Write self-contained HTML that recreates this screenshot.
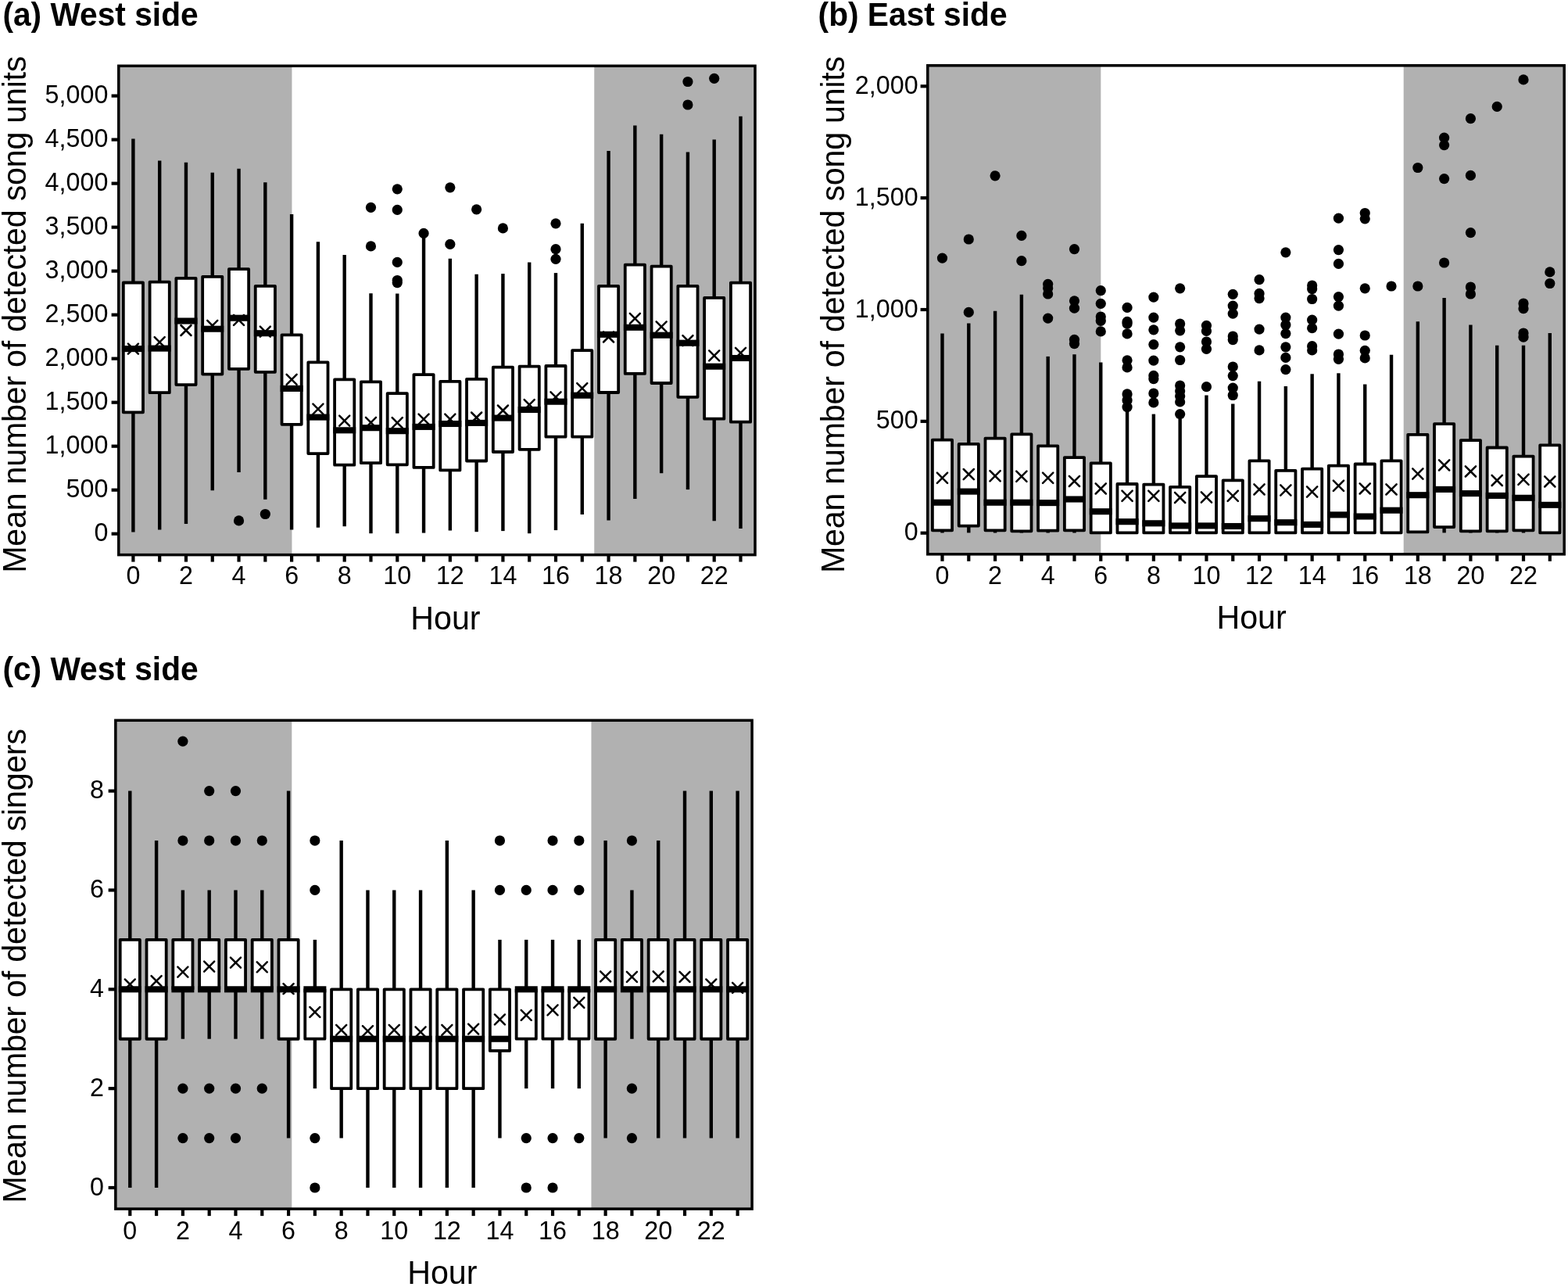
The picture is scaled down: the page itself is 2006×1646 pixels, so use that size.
<!DOCTYPE html><html><head><meta charset="utf-8"><title>Figure</title><style>
html,body{margin:0;padding:0;background:#fff;}svg{display:block;}
text{font-family:"Liberation Sans",Arial,Helvetica,sans-serif;fill:#000;}
.tl{font-size:32px;}.al{font-size:40px;}.ti{font-size:40px;font-weight:bold;}
.w{stroke:#000;stroke-width:4.4;}
.b{fill:#fff;stroke:#000;stroke-width:3.8;stroke-linejoin:round;}
.m{stroke:#000;stroke-width:8.1;}
.x{stroke:#000;stroke-width:2.5;stroke-linecap:round;fill:none;}
.fr{fill:none;stroke:#000;stroke-width:3.5;}
.t{stroke:#000;stroke-width:4.2;}
circle{fill:#000;}
</style></head><body>
<svg width="2006" height="1646" viewBox="0 0 2006 1646">
<rect width="2006" height="1646" fill="#fff"/>
<rect x="151.8" y="84.3" width="221.65" height="625.3" fill="#b1b1b1"/>
<rect x="760.25" y="84.3" width="205.75" height="625.3" fill="#b1b1b1"/>
<line x1="170.4" y1="177.4" x2="170.4" y2="361.5" class="w"/>
<line x1="170.4" y1="527.3" x2="170.4" y2="680.6" class="w"/>
<rect x="157.8" y="361.5" width="25.2" height="165.8" class="b"/>
<line x1="155.9" y1="446.1" x2="184.9" y2="446.1" class="m"/>
<path d="M163.9 439.6L176.9 452.6M163.9 452.6L176.9 439.6" class="x"/>
<line x1="204.19" y1="205.6" x2="204.19" y2="360.6" class="w"/>
<line x1="204.19" y1="502.2" x2="204.19" y2="677.4" class="w"/>
<rect x="191.59" y="360.6" width="25.2" height="141.6" class="b"/>
<line x1="189.69" y1="445.6" x2="218.69" y2="445.6" class="m"/>
<path d="M197.69 431.2L210.69 444.2M197.69 444.2L210.69 431.2" class="x"/>
<line x1="237.97" y1="207.7" x2="237.97" y2="355.8" class="w"/>
<line x1="237.97" y1="492.1" x2="237.97" y2="670.1" class="w"/>
<rect x="225.37" y="355.8" width="25.2" height="136.3" class="b"/>
<line x1="223.47" y1="410.5" x2="252.47" y2="410.5" class="m"/>
<path d="M231.47 416L244.47 429M231.47 429L244.47 416" class="x"/>
<line x1="271.76" y1="220.7" x2="271.76" y2="353.8" class="w"/>
<line x1="271.76" y1="478.6" x2="271.76" y2="627.2" class="w"/>
<rect x="259.16" y="353.8" width="25.2" height="124.8" class="b"/>
<line x1="257.26" y1="420.7" x2="286.26" y2="420.7" class="m"/>
<path d="M265.26 409.8L278.26 422.8M265.26 422.8L278.26 409.8" class="x"/>
<line x1="305.55" y1="215.7" x2="305.55" y2="344.2" class="w"/>
<line x1="305.55" y1="471.8" x2="305.55" y2="604.1" class="w"/>
<rect x="292.95" y="344.2" width="25.2" height="127.6" class="b"/>
<line x1="291.05" y1="406.7" x2="320.05" y2="406.7" class="m"/>
<path d="M299.05 402.9L312.05 415.9M299.05 415.9L312.05 402.9" class="x"/>
<circle cx="305.55" cy="665.9" r="6.6"/>
<line x1="339.34" y1="233.3" x2="339.34" y2="365.8" class="w"/>
<line x1="339.34" y1="475.8" x2="339.34" y2="638.7" class="w"/>
<rect x="326.74" y="365.8" width="25.2" height="110" class="b"/>
<line x1="324.84" y1="426.2" x2="353.84" y2="426.2" class="m"/>
<path d="M332.84 417.6L345.84 430.6M332.84 430.6L345.84 417.6" class="x"/>
<circle cx="339.34" cy="657.5" r="6.6"/>
<line x1="373.12" y1="274.1" x2="373.12" y2="428.3" class="w"/>
<line x1="373.12" y1="542.8" x2="373.12" y2="677.4" class="w"/>
<rect x="360.52" y="428.3" width="25.2" height="114.5" class="b"/>
<line x1="358.62" y1="496.9" x2="387.62" y2="496.9" class="m"/>
<path d="M366.62 478.9L379.62 491.9M366.62 491.9L379.62 478.9" class="x"/>
<line x1="406.91" y1="309.3" x2="406.91" y2="463.4" class="w"/>
<line x1="406.91" y1="580.1" x2="406.91" y2="674.7" class="w"/>
<rect x="394.31" y="463.4" width="25.2" height="116.7" class="b"/>
<line x1="392.41" y1="533.6" x2="421.41" y2="533.6" class="m"/>
<path d="M400.41 516.6L413.41 529.6M400.41 529.6L413.41 516.6" class="x"/>
<line x1="440.7" y1="326" x2="440.7" y2="485.4" class="w"/>
<line x1="440.7" y1="594.7" x2="440.7" y2="673.2" class="w"/>
<rect x="428.1" y="485.4" width="25.2" height="109.3" class="b"/>
<line x1="426.2" y1="550.3" x2="455.2" y2="550.3" class="m"/>
<path d="M434.2 531.7L447.2 544.7M434.2 544.7L447.2 531.7" class="x"/>
<line x1="474.48" y1="375.2" x2="474.48" y2="488.4" class="w"/>
<line x1="474.48" y1="592.2" x2="474.48" y2="682.2" class="w"/>
<rect x="461.88" y="488.4" width="25.2" height="103.8" class="b"/>
<line x1="459.98" y1="547.2" x2="488.98" y2="547.2" class="m"/>
<path d="M467.98 533.8L480.98 546.8M467.98 546.8L480.98 533.8" class="x"/>
<circle cx="474.48" cy="265.3" r="6.6"/>
<circle cx="474.48" cy="314.9" r="6.6"/>
<line x1="508.27" y1="375.6" x2="508.27" y2="503.2" class="w"/>
<line x1="508.27" y1="594.3" x2="508.27" y2="682.2" class="w"/>
<rect x="495.67" y="503.2" width="25.2" height="91.1" class="b"/>
<line x1="493.77" y1="551.2" x2="522.77" y2="551.2" class="m"/>
<path d="M501.77 534.2L514.77 547.2M501.77 547.2L514.77 534.2" class="x"/>
<circle cx="508.27" cy="241.8" r="6.6"/>
<circle cx="508.27" cy="268.4" r="6.6"/>
<circle cx="508.27" cy="335.4" r="6.6"/>
<circle cx="508.27" cy="358.5" r="6.6"/>
<circle cx="508.27" cy="361.6" r="6.6"/>
<line x1="542.06" y1="304" x2="542.06" y2="479.1" class="w"/>
<line x1="542.06" y1="597.9" x2="542.06" y2="681.6" class="w"/>
<rect x="529.46" y="479.1" width="25.2" height="118.8" class="b"/>
<line x1="527.56" y1="545.9" x2="556.56" y2="545.9" class="m"/>
<path d="M535.56 529.6L548.56 542.6M535.56 542.6L548.56 529.6" class="x"/>
<circle cx="542.06" cy="298.4" r="6.6"/>
<line x1="575.84" y1="330.8" x2="575.84" y2="487.9" class="w"/>
<line x1="575.84" y1="601.4" x2="575.84" y2="678.5" class="w"/>
<rect x="563.24" y="487.9" width="25.2" height="113.5" class="b"/>
<line x1="561.34" y1="542" x2="590.34" y2="542" class="m"/>
<path d="M569.34 529.6L582.34 542.6M569.34 542.6L582.34 529.6" class="x"/>
<circle cx="575.84" cy="239.8" r="6.6"/>
<circle cx="575.84" cy="312.4" r="6.6"/>
<line x1="609.63" y1="350.7" x2="609.63" y2="484.8" class="w"/>
<line x1="609.63" y1="589.5" x2="609.63" y2="680.2" class="w"/>
<rect x="597.03" y="484.8" width="25.2" height="104.7" class="b"/>
<line x1="595.13" y1="540.9" x2="624.13" y2="540.9" class="m"/>
<path d="M603.13 527.5L616.13 540.5M603.13 540.5L616.13 527.5" class="x"/>
<circle cx="609.63" cy="267.8" r="6.6"/>
<line x1="643.42" y1="350.1" x2="643.42" y2="469.7" class="w"/>
<line x1="643.42" y1="578" x2="643.42" y2="679.1" class="w"/>
<rect x="630.82" y="469.7" width="25.2" height="108.3" class="b"/>
<line x1="628.92" y1="534.6" x2="657.92" y2="534.6" class="m"/>
<path d="M636.92 518.5L649.92 531.5M636.92 531.5L649.92 518.5" class="x"/>
<circle cx="643.42" cy="291.9" r="6.6"/>
<line x1="677.21" y1="335.4" x2="677.21" y2="468.7" class="w"/>
<line x1="677.21" y1="574.8" x2="677.21" y2="682.2" class="w"/>
<rect x="664.61" y="468.7" width="25.2" height="106.1" class="b"/>
<line x1="662.71" y1="524" x2="691.71" y2="524" class="m"/>
<path d="M670.71 511.2L683.71 524.2M670.71 524.2L683.71 511.2" class="x"/>
<line x1="710.99" y1="349.1" x2="710.99" y2="468" class="w"/>
<line x1="710.99" y1="558.7" x2="710.99" y2="678.1" class="w"/>
<rect x="698.39" y="468" width="25.2" height="90.7" class="b"/>
<line x1="696.49" y1="513.7" x2="725.49" y2="513.7" class="m"/>
<path d="M704.49 501.3L717.49 514.3M704.49 514.3L717.49 501.3" class="x"/>
<circle cx="710.99" cy="285.8" r="6.6"/>
<circle cx="710.99" cy="318.7" r="6.6"/>
<circle cx="710.99" cy="331.3" r="6.6"/>
<line x1="744.78" y1="285.8" x2="744.78" y2="448.2" class="w"/>
<line x1="744.78" y1="558.7" x2="744.78" y2="658" class="w"/>
<rect x="732.18" y="448.2" width="25.2" height="110.5" class="b"/>
<line x1="730.28" y1="505.7" x2="759.28" y2="505.7" class="m"/>
<path d="M738.28 490.2L751.28 503.2M738.28 503.2L751.28 490.2" class="x"/>
<line x1="778.57" y1="193.1" x2="778.57" y2="365.8" class="w"/>
<line x1="778.57" y1="502" x2="778.57" y2="665.5" class="w"/>
<rect x="765.97" y="365.8" width="25.2" height="136.2" class="b"/>
<line x1="764.07" y1="427.8" x2="793.07" y2="427.8" class="m"/>
<path d="M772.07 424.5L785.07 437.5M772.07 437.5L785.07 424.5" class="x"/>
<line x1="812.35" y1="160.6" x2="812.35" y2="338.6" class="w"/>
<line x1="812.35" y1="477.9" x2="812.35" y2="638.1" class="w"/>
<rect x="799.75" y="338.6" width="25.2" height="139.3" class="b"/>
<line x1="797.85" y1="418.8" x2="826.85" y2="418.8" class="m"/>
<path d="M805.85 400.8L818.85 413.8M805.85 413.8L818.85 400.8" class="x"/>
<line x1="846.14" y1="171.7" x2="846.14" y2="340.7" class="w"/>
<line x1="846.14" y1="490" x2="846.14" y2="605.2" class="w"/>
<rect x="833.54" y="340.7" width="25.2" height="149.3" class="b"/>
<line x1="831.64" y1="428.7" x2="860.64" y2="428.7" class="m"/>
<path d="M839.64 411.3L852.64 424.3M839.64 424.3L852.64 411.3" class="x"/>
<line x1="879.93" y1="194.5" x2="879.93" y2="365.8" class="w"/>
<line x1="879.93" y1="507.8" x2="879.93" y2="626.1" class="w"/>
<rect x="867.33" y="365.8" width="25.2" height="142" class="b"/>
<line x1="865.43" y1="438.7" x2="894.43" y2="438.7" class="m"/>
<path d="M873.43 429.1L886.43 442.1M873.43 442.1L886.43 429.1" class="x"/>
<circle cx="879.93" cy="104.5" r="6.6"/>
<circle cx="879.93" cy="134" r="6.6"/>
<line x1="913.71" y1="178.4" x2="913.71" y2="380.9" class="w"/>
<line x1="913.71" y1="535.7" x2="913.71" y2="666.3" class="w"/>
<rect x="901.11" y="380.9" width="25.2" height="154.8" class="b"/>
<line x1="899.21" y1="468.7" x2="928.21" y2="468.7" class="m"/>
<path d="M907.21 448.4L920.21 461.4M907.21 461.4L920.21 448.4" class="x"/>
<circle cx="913.71" cy="100.3" r="6.6"/>
<line x1="947.5" y1="148.7" x2="947.5" y2="361.6" class="w"/>
<line x1="947.5" y1="539.7" x2="947.5" y2="676" class="w"/>
<rect x="934.9" y="361.6" width="25.2" height="178.1" class="b"/>
<line x1="933" y1="458" x2="962" y2="458" class="m"/>
<path d="M941 444.8L954 457.8M941 457.8L954 444.8" class="x"/>
<rect x="151.8" y="84.3" width="814.2" height="625.3" class="fr"/>
<line x1="142.6" y1="682.7" x2="151.8" y2="682.7" class="t"/>
<text transform="translate(138.4 692.2) scale(1 1.03)" font-size="32.3" text-anchor="end">0</text>
<line x1="142.6" y1="626.69" x2="151.8" y2="626.69" class="t"/>
<text transform="translate(138.4 636.19) scale(1 1.03)" font-size="32.3" text-anchor="end">500</text>
<line x1="142.6" y1="570.68" x2="151.8" y2="570.68" class="t"/>
<text transform="translate(138.4 580.18) scale(1 1.03)" font-size="32.3" text-anchor="end">1,000</text>
<line x1="142.6" y1="514.67" x2="151.8" y2="514.67" class="t"/>
<text transform="translate(138.4 524.17) scale(1 1.03)" font-size="32.3" text-anchor="end">1,500</text>
<line x1="142.6" y1="458.66" x2="151.8" y2="458.66" class="t"/>
<text transform="translate(138.4 468.16) scale(1 1.03)" font-size="32.3" text-anchor="end">2,000</text>
<line x1="142.6" y1="402.65" x2="151.8" y2="402.65" class="t"/>
<text transform="translate(138.4 412.15) scale(1 1.03)" font-size="32.3" text-anchor="end">2,500</text>
<line x1="142.6" y1="346.64" x2="151.8" y2="346.64" class="t"/>
<text transform="translate(138.4 356.14) scale(1 1.03)" font-size="32.3" text-anchor="end">3,000</text>
<line x1="142.6" y1="290.63" x2="151.8" y2="290.63" class="t"/>
<text transform="translate(138.4 300.13) scale(1 1.03)" font-size="32.3" text-anchor="end">3,500</text>
<line x1="142.6" y1="234.62" x2="151.8" y2="234.62" class="t"/>
<text transform="translate(138.4 244.12) scale(1 1.03)" font-size="32.3" text-anchor="end">4,000</text>
<line x1="142.6" y1="178.61" x2="151.8" y2="178.61" class="t"/>
<text transform="translate(138.4 188.11) scale(1 1.03)" font-size="32.3" text-anchor="end">4,500</text>
<line x1="142.6" y1="122.6" x2="151.8" y2="122.6" class="t"/>
<text transform="translate(138.4 132.1) scale(1 1.03)" font-size="32.3" text-anchor="end">5,000</text>
<line x1="170.4" y1="709.6" x2="170.4" y2="718.6" class="t"/>
<text transform="translate(170.4 747.4) scale(1 1.03)" font-size="32.3" text-anchor="middle">0</text>
<line x1="204.19" y1="709.6" x2="204.19" y2="718.6" class="t"/>
<line x1="237.97" y1="709.6" x2="237.97" y2="718.6" class="t"/>
<text transform="translate(237.97 747.4) scale(1 1.03)" font-size="32.3" text-anchor="middle">2</text>
<line x1="271.76" y1="709.6" x2="271.76" y2="718.6" class="t"/>
<line x1="305.55" y1="709.6" x2="305.55" y2="718.6" class="t"/>
<text transform="translate(305.55 747.4) scale(1 1.03)" font-size="32.3" text-anchor="middle">4</text>
<line x1="339.34" y1="709.6" x2="339.34" y2="718.6" class="t"/>
<line x1="373.12" y1="709.6" x2="373.12" y2="718.6" class="t"/>
<text transform="translate(373.12 747.4) scale(1 1.03)" font-size="32.3" text-anchor="middle">6</text>
<line x1="406.91" y1="709.6" x2="406.91" y2="718.6" class="t"/>
<line x1="440.7" y1="709.6" x2="440.7" y2="718.6" class="t"/>
<text transform="translate(440.7 747.4) scale(1 1.03)" font-size="32.3" text-anchor="middle">8</text>
<line x1="474.48" y1="709.6" x2="474.48" y2="718.6" class="t"/>
<line x1="508.27" y1="709.6" x2="508.27" y2="718.6" class="t"/>
<text transform="translate(508.27 747.4) scale(1 1.03)" font-size="32.3" text-anchor="middle">10</text>
<line x1="542.06" y1="709.6" x2="542.06" y2="718.6" class="t"/>
<line x1="575.84" y1="709.6" x2="575.84" y2="718.6" class="t"/>
<text transform="translate(575.84 747.4) scale(1 1.03)" font-size="32.3" text-anchor="middle">12</text>
<line x1="609.63" y1="709.6" x2="609.63" y2="718.6" class="t"/>
<line x1="643.42" y1="709.6" x2="643.42" y2="718.6" class="t"/>
<text transform="translate(643.42 747.4) scale(1 1.03)" font-size="32.3" text-anchor="middle">14</text>
<line x1="677.21" y1="709.6" x2="677.21" y2="718.6" class="t"/>
<line x1="710.99" y1="709.6" x2="710.99" y2="718.6" class="t"/>
<text transform="translate(710.99 747.4) scale(1 1.03)" font-size="32.3" text-anchor="middle">16</text>
<line x1="744.78" y1="709.6" x2="744.78" y2="718.6" class="t"/>
<line x1="778.57" y1="709.6" x2="778.57" y2="718.6" class="t"/>
<text transform="translate(778.57 747.4) scale(1 1.03)" font-size="32.3" text-anchor="middle">18</text>
<line x1="812.35" y1="709.6" x2="812.35" y2="718.6" class="t"/>
<line x1="846.14" y1="709.6" x2="846.14" y2="718.6" class="t"/>
<text transform="translate(846.14 747.4) scale(1 1.03)" font-size="32.3" text-anchor="middle">20</text>
<line x1="879.93" y1="709.6" x2="879.93" y2="718.6" class="t"/>
<line x1="913.71" y1="709.6" x2="913.71" y2="718.6" class="t"/>
<text transform="translate(913.71 747.4) scale(1 1.03)" font-size="32.3" text-anchor="middle">22</text>
<line x1="947.5" y1="709.6" x2="947.5" y2="718.6" class="t"/>
<text transform="translate(3.4 32.7) scale(1 1.05)" font-size="40.7" font-weight="bold">(a) West side</text>
<text transform="translate(569.9 805.3) scale(1 1.04)" font-size="41.2" text-anchor="middle">Hour</text>
<text transform="translate(32.6 732.7) rotate(-90) scale(1 1.04)" font-size="41.2" textLength="661.1" lengthAdjust="spacing">Mean number of detected song units</text>
<rect x="1186.8" y="83.8" width="221.5" height="625" fill="#b1b1b1"/>
<rect x="1795.7" y="83.8" width="205.5" height="625" fill="#b1b1b1"/>
<line x1="1205.5" y1="426.6" x2="1205.5" y2="562.7" class="w"/>
<line x1="1205.5" y1="678.3" x2="1205.5" y2="681.5" class="w"/>
<rect x="1192.9" y="562.7" width="25.2" height="115.6" class="b"/>
<line x1="1191" y1="642.7" x2="1220" y2="642.7" class="m"/>
<path d="M1198.9 604.7L1212.1 617.9M1198.9 617.9L1212.1 604.7" class="x"/>
<circle cx="1205.5" cy="330.1" r="6.6"/>
<line x1="1239.3" y1="413.4" x2="1239.3" y2="567.9" class="w"/>
<line x1="1239.3" y1="672.6" x2="1239.3" y2="681.4" class="w"/>
<rect x="1226.7" y="567.9" width="25.2" height="104.7" class="b"/>
<line x1="1224.8" y1="628.6" x2="1253.8" y2="628.6" class="m"/>
<path d="M1232.7 600L1245.9 613.2M1232.7 613.2L1245.9 600" class="x"/>
<circle cx="1239.3" cy="306" r="6.6"/>
<circle cx="1239.3" cy="399.4" r="6.6"/>
<line x1="1273.09" y1="397.7" x2="1273.09" y2="560.6" class="w"/>
<line x1="1273.09" y1="678.3" x2="1273.09" y2="681.5" class="w"/>
<rect x="1260.49" y="560.6" width="25.2" height="117.7" class="b"/>
<line x1="1258.59" y1="642.7" x2="1287.59" y2="642.7" class="m"/>
<path d="M1266.49 602.1L1279.69 615.3M1266.49 615.3L1279.69 602.1" class="x"/>
<circle cx="1273.09" cy="224.8" r="6.6"/>
<line x1="1306.89" y1="376.8" x2="1306.89" y2="555.4" class="w"/>
<line x1="1306.89" y1="679.3" x2="1306.89" y2="681.5" class="w"/>
<rect x="1294.29" y="555.4" width="25.2" height="123.9" class="b"/>
<line x1="1292.39" y1="642.7" x2="1321.39" y2="642.7" class="m"/>
<path d="M1300.29 602.6L1313.49 615.8M1300.29 615.8L1313.49 602.6" class="x"/>
<circle cx="1306.89" cy="301.4" r="6.6"/>
<circle cx="1306.89" cy="333.7" r="6.6"/>
<line x1="1340.68" y1="455.9" x2="1340.68" y2="570.4" class="w"/>
<line x1="1340.68" y1="678.7" x2="1340.68" y2="681.5" class="w"/>
<rect x="1328.08" y="570.4" width="25.2" height="108.3" class="b"/>
<line x1="1326.18" y1="643.1" x2="1355.18" y2="643.1" class="m"/>
<path d="M1334.08 604.7L1347.28 617.9M1334.08 617.9L1347.28 604.7" class="x"/>
<circle cx="1340.68" cy="363.3" r="6.6"/>
<circle cx="1340.68" cy="368.6" r="6.6"/>
<circle cx="1340.68" cy="376" r="6.6"/>
<circle cx="1340.68" cy="407.1" r="6.6"/>
<line x1="1374.48" y1="453.2" x2="1374.48" y2="585.1" class="w"/>
<line x1="1374.48" y1="678.3" x2="1374.48" y2="681.5" class="w"/>
<rect x="1361.88" y="585.1" width="25.2" height="93.2" class="b"/>
<line x1="1359.98" y1="638.5" x2="1388.98" y2="638.5" class="m"/>
<path d="M1367.88 608.8L1381.08 622M1367.88 622L1381.08 608.8" class="x"/>
<circle cx="1374.48" cy="318.6" r="6.6"/>
<circle cx="1374.48" cy="384.8" r="6.6"/>
<circle cx="1374.48" cy="394.2" r="6.6"/>
<circle cx="1374.48" cy="434.3" r="6.6"/>
<circle cx="1374.48" cy="439.6" r="6.6"/>
<line x1="1408.28" y1="463.6" x2="1408.28" y2="592.4" class="w"/>
<line x1="1408.28" y1="681.4" x2="1408.28" y2="681.5" class="w"/>
<rect x="1395.68" y="592.4" width="25.2" height="89" class="b"/>
<line x1="1393.78" y1="654.2" x2="1422.78" y2="654.2" class="m"/>
<path d="M1401.68 618.3L1414.88 631.5M1401.68 631.5L1414.88 618.3" class="x"/>
<circle cx="1408.28" cy="371.7" r="6.6"/>
<circle cx="1408.28" cy="388.3" r="6.6"/>
<circle cx="1408.28" cy="405" r="6.6"/>
<circle cx="1408.28" cy="410.3" r="6.6"/>
<circle cx="1408.28" cy="423.9" r="6.6"/>
<line x1="1442.07" y1="525.4" x2="1442.07" y2="619" class="w"/>
<line x1="1442.07" y1="681.4" x2="1442.07" y2="681.5" class="w"/>
<rect x="1429.47" y="619" width="25.2" height="62.4" class="b"/>
<line x1="1427.57" y1="667.2" x2="1456.57" y2="667.2" class="m"/>
<path d="M1435.47 627.7L1448.67 640.9M1435.47 640.9L1448.67 627.7" class="x"/>
<circle cx="1442.07" cy="393.4" r="6.6"/>
<circle cx="1442.07" cy="411.4" r="6.6"/>
<circle cx="1442.07" cy="414.1" r="6.6"/>
<circle cx="1442.07" cy="426.9" r="6.6"/>
<circle cx="1442.07" cy="460.8" r="6.6"/>
<circle cx="1442.07" cy="469.9" r="6.6"/>
<circle cx="1442.07" cy="503.9" r="6.6"/>
<circle cx="1442.07" cy="511.9" r="6.6"/>
<circle cx="1442.07" cy="520.5" r="6.6"/>
<line x1="1475.87" y1="529.6" x2="1475.87" y2="619.6" class="w"/>
<line x1="1475.87" y1="681.4" x2="1475.87" y2="681.5" class="w"/>
<rect x="1463.27" y="619.6" width="25.2" height="61.8" class="b"/>
<line x1="1461.37" y1="669.3" x2="1490.37" y2="669.3" class="m"/>
<path d="M1469.27 627.7L1482.47 640.9M1469.27 640.9L1482.47 627.7" class="x"/>
<circle cx="1475.87" cy="380.1" r="6.6"/>
<circle cx="1475.87" cy="406.1" r="6.6"/>
<circle cx="1475.87" cy="421.8" r="6.6"/>
<circle cx="1475.87" cy="440.6" r="6.6"/>
<circle cx="1475.87" cy="461.1" r="6.6"/>
<circle cx="1475.87" cy="480.4" r="6.6"/>
<circle cx="1475.87" cy="484.6" r="6.6"/>
<circle cx="1475.87" cy="503" r="6.6"/>
<circle cx="1475.87" cy="514.9" r="6.6"/>
<line x1="1509.66" y1="535.9" x2="1509.66" y2="622.8" class="w"/>
<line x1="1509.66" y1="681.4" x2="1509.66" y2="681.5" class="w"/>
<rect x="1497.06" y="622.8" width="25.2" height="58.6" class="b"/>
<line x1="1495.16" y1="672.4" x2="1524.16" y2="672.4" class="m"/>
<path d="M1503.06 629.8L1516.26 643M1503.06 643L1516.26 629.8" class="x"/>
<circle cx="1509.66" cy="368.8" r="6.6"/>
<circle cx="1509.66" cy="414" r="6.6"/>
<circle cx="1509.66" cy="422.8" r="6.6"/>
<circle cx="1509.66" cy="443.8" r="6.6"/>
<circle cx="1509.66" cy="460.5" r="6.6"/>
<circle cx="1509.66" cy="493" r="6.6"/>
<circle cx="1509.66" cy="499.9" r="6.6"/>
<circle cx="1509.66" cy="506.6" r="6.6"/>
<circle cx="1509.66" cy="513.9" r="6.6"/>
<circle cx="1509.66" cy="529.6" r="6.6"/>
<line x1="1543.46" y1="505.5" x2="1543.46" y2="609.2" class="w"/>
<line x1="1543.46" y1="681.4" x2="1543.46" y2="681.5" class="w"/>
<rect x="1530.86" y="609.2" width="25.2" height="72.2" class="b"/>
<line x1="1528.96" y1="672.4" x2="1557.96" y2="672.4" class="m"/>
<path d="M1536.86 629.4L1550.06 642.6M1536.86 642.6L1550.06 629.4" class="x"/>
<circle cx="1543.46" cy="416.3" r="6.6"/>
<circle cx="1543.46" cy="423.4" r="6.6"/>
<circle cx="1543.46" cy="437" r="6.6"/>
<circle cx="1543.46" cy="446.3" r="6.6"/>
<circle cx="1543.46" cy="494.7" r="6.6"/>
<line x1="1577.26" y1="516.5" x2="1577.26" y2="614.4" class="w"/>
<line x1="1577.26" y1="681.4" x2="1577.26" y2="681.5" class="w"/>
<rect x="1564.66" y="614.4" width="25.2" height="67" class="b"/>
<line x1="1562.76" y1="673" x2="1591.76" y2="673" class="m"/>
<path d="M1570.66 627.7L1583.86 640.9M1570.66 640.9L1583.86 627.7" class="x"/>
<circle cx="1577.26" cy="376.3" r="6.6"/>
<circle cx="1577.26" cy="391.1" r="6.6"/>
<circle cx="1577.26" cy="401.2" r="6.6"/>
<circle cx="1577.26" cy="430" r="6.6"/>
<circle cx="1577.26" cy="434.6" r="6.6"/>
<circle cx="1577.26" cy="469" r="6.6"/>
<circle cx="1577.26" cy="480.6" r="6.6"/>
<circle cx="1577.26" cy="496.1" r="6.6"/>
<circle cx="1577.26" cy="505.5" r="6.6"/>
<line x1="1611.05" y1="487.7" x2="1611.05" y2="589.3" class="w"/>
<line x1="1611.05" y1="681.4" x2="1611.05" y2="681.5" class="w"/>
<rect x="1598.45" y="589.3" width="25.2" height="92.1" class="b"/>
<line x1="1596.55" y1="663.2" x2="1625.55" y2="663.2" class="m"/>
<path d="M1604.45 619.3L1617.65 632.5M1604.45 632.5L1617.65 619.3" class="x"/>
<circle cx="1611.05" cy="357.7" r="6.6"/>
<circle cx="1611.05" cy="375.4" r="6.6"/>
<circle cx="1611.05" cy="381.6" r="6.6"/>
<circle cx="1611.05" cy="421.1" r="6.6"/>
<circle cx="1611.05" cy="447.9" r="6.6"/>
<line x1="1644.85" y1="494" x2="1644.85" y2="601.8" class="w"/>
<line x1="1644.85" y1="681.4" x2="1644.85" y2="681.5" class="w"/>
<rect x="1632.25" y="601.8" width="25.2" height="79.6" class="b"/>
<line x1="1630.35" y1="668.2" x2="1659.35" y2="668.2" class="m"/>
<path d="M1638.25 620.4L1651.45 633.6M1638.25 633.6L1651.45 620.4" class="x"/>
<circle cx="1644.85" cy="322.8" r="6.6"/>
<circle cx="1644.85" cy="406.1" r="6.6"/>
<circle cx="1644.85" cy="415.5" r="6.6"/>
<circle cx="1644.85" cy="426.6" r="6.6"/>
<circle cx="1644.85" cy="443.8" r="6.6"/>
<circle cx="1644.85" cy="457.4" r="6.6"/>
<circle cx="1644.85" cy="472.6" r="6.6"/>
<line x1="1678.64" y1="478.3" x2="1678.64" y2="599.7" class="w"/>
<line x1="1678.64" y1="681.4" x2="1678.64" y2="681.5" class="w"/>
<rect x="1666.04" y="599.7" width="25.2" height="81.7" class="b"/>
<line x1="1664.14" y1="670.9" x2="1693.14" y2="670.9" class="m"/>
<path d="M1672.04 622.4L1685.24 635.6M1672.04 635.6L1685.24 622.4" class="x"/>
<circle cx="1678.64" cy="365" r="6.6"/>
<circle cx="1678.64" cy="369.6" r="6.6"/>
<circle cx="1678.64" cy="382.5" r="6.6"/>
<circle cx="1678.64" cy="409.2" r="6.6"/>
<circle cx="1678.64" cy="419.7" r="6.6"/>
<circle cx="1678.64" cy="442.7" r="6.6"/>
<circle cx="1678.64" cy="447.9" r="6.6"/>
<line x1="1712.44" y1="477.3" x2="1712.44" y2="595.6" class="w"/>
<line x1="1712.44" y1="681.4" x2="1712.44" y2="681.5" class="w"/>
<rect x="1699.84" y="595.6" width="25.2" height="85.8" class="b"/>
<line x1="1697.94" y1="658.4" x2="1726.94" y2="658.4" class="m"/>
<path d="M1705.84 614.7L1719.04 627.9M1705.84 627.9L1719.04 614.7" class="x"/>
<circle cx="1712.44" cy="279.2" r="6.6"/>
<circle cx="1712.44" cy="319.6" r="6.6"/>
<circle cx="1712.44" cy="337.4" r="6.6"/>
<circle cx="1712.44" cy="379.6" r="6.6"/>
<circle cx="1712.44" cy="391.1" r="6.6"/>
<circle cx="1712.44" cy="427.2" r="6.6"/>
<circle cx="1712.44" cy="453" r="6.6"/>
<circle cx="1712.44" cy="459.3" r="6.6"/>
<line x1="1746.24" y1="491.5" x2="1746.24" y2="593.5" class="w"/>
<line x1="1746.24" y1="681.4" x2="1746.24" y2="681.5" class="w"/>
<rect x="1733.64" y="593.5" width="25.2" height="87.9" class="b"/>
<line x1="1731.74" y1="660.5" x2="1760.74" y2="660.5" class="m"/>
<path d="M1739.64 618.3L1752.84 631.5M1739.64 631.5L1752.84 618.3" class="x"/>
<circle cx="1746.24" cy="272.5" r="6.6"/>
<circle cx="1746.24" cy="279.8" r="6.6"/>
<circle cx="1746.24" cy="368.8" r="6.6"/>
<circle cx="1746.24" cy="429" r="6.6"/>
<circle cx="1746.24" cy="448.3" r="6.6"/>
<circle cx="1746.24" cy="457.9" r="6.6"/>
<line x1="1780.03" y1="453.8" x2="1780.03" y2="589.3" class="w"/>
<line x1="1780.03" y1="681.4" x2="1780.03" y2="681.5" class="w"/>
<rect x="1767.43" y="589.3" width="25.2" height="92.1" class="b"/>
<line x1="1765.53" y1="652.7" x2="1794.53" y2="652.7" class="m"/>
<path d="M1773.43 619.3L1786.63 632.5M1773.43 632.5L1786.63 619.3" class="x"/>
<circle cx="1780.03" cy="366" r="6.6"/>
<line x1="1813.83" y1="411.3" x2="1813.83" y2="555.8" class="w"/>
<line x1="1813.83" y1="680.4" x2="1813.83" y2="681.5" class="w"/>
<rect x="1801.23" y="555.8" width="25.2" height="124.6" class="b"/>
<line x1="1799.33" y1="633.2" x2="1828.33" y2="633.2" class="m"/>
<path d="M1807.23 599.4L1820.43 612.6M1807.23 612.6L1820.43 599.4" class="x"/>
<circle cx="1813.83" cy="214.5" r="6.6"/>
<circle cx="1813.83" cy="366" r="6.6"/>
<line x1="1847.62" y1="380.9" x2="1847.62" y2="542.2" class="w"/>
<line x1="1847.62" y1="674.1" x2="1847.62" y2="681.4" class="w"/>
<rect x="1835.02" y="542.2" width="25.2" height="131.9" class="b"/>
<line x1="1833.12" y1="625.9" x2="1862.12" y2="625.9" class="m"/>
<path d="M1841.02 588.3L1854.22 601.5M1841.02 601.5L1854.22 588.3" class="x"/>
<circle cx="1847.62" cy="176.2" r="6.6"/>
<circle cx="1847.62" cy="185.6" r="6.6"/>
<circle cx="1847.62" cy="228.6" r="6.6"/>
<circle cx="1847.62" cy="336" r="6.6"/>
<line x1="1881.42" y1="415.5" x2="1881.42" y2="563.1" class="w"/>
<line x1="1881.42" y1="679.3" x2="1881.42" y2="681.5" class="w"/>
<rect x="1868.82" y="563.1" width="25.2" height="116.2" class="b"/>
<line x1="1866.92" y1="631.1" x2="1895.92" y2="631.1" class="m"/>
<path d="M1874.82 596.3L1888.02 609.5M1874.82 609.5L1888.02 596.3" class="x"/>
<circle cx="1881.42" cy="151.7" r="6.6"/>
<circle cx="1881.42" cy="224.4" r="6.6"/>
<circle cx="1881.42" cy="297.6" r="6.6"/>
<circle cx="1881.42" cy="367" r="6.6"/>
<circle cx="1881.42" cy="376" r="6.6"/>
<line x1="1915.22" y1="441.7" x2="1915.22" y2="572.5" class="w"/>
<line x1="1915.22" y1="679.3" x2="1915.22" y2="681.5" class="w"/>
<rect x="1902.62" y="572.5" width="25.2" height="106.8" class="b"/>
<line x1="1900.72" y1="633.9" x2="1929.72" y2="633.9" class="m"/>
<path d="M1908.62 607.8L1921.82 621M1908.62 621L1921.82 607.8" class="x"/>
<circle cx="1915.22" cy="136.4" r="6.6"/>
<line x1="1949.01" y1="441.7" x2="1949.01" y2="583.6" class="w"/>
<line x1="1949.01" y1="678.3" x2="1949.01" y2="681.5" class="w"/>
<rect x="1936.41" y="583.6" width="25.2" height="94.7" class="b"/>
<line x1="1934.51" y1="636.8" x2="1963.51" y2="636.8" class="m"/>
<path d="M1942.41 606.7L1955.61 619.9M1942.41 619.9L1955.61 606.7" class="x"/>
<circle cx="1949.01" cy="101.9" r="6.6"/>
<circle cx="1949.01" cy="388" r="6.6"/>
<circle cx="1949.01" cy="394.7" r="6.6"/>
<circle cx="1949.01" cy="426" r="6.6"/>
<circle cx="1949.01" cy="431.2" r="6.6"/>
<line x1="1982.81" y1="426" x2="1982.81" y2="569.4" class="w"/>
<line x1="1982.81" y1="681.4" x2="1982.81" y2="681.5" class="w"/>
<rect x="1970.21" y="569.4" width="25.2" height="112" class="b"/>
<line x1="1968.31" y1="645.8" x2="1997.31" y2="645.8" class="m"/>
<path d="M1976.21 609.3L1989.41 622.5M1976.21 622.5L1989.41 609.3" class="x"/>
<circle cx="1982.81" cy="347.9" r="6.6"/>
<circle cx="1982.81" cy="362.5" r="6.6"/>
<rect x="1186.8" y="83.8" width="814.4" height="625" class="fr"/>
<line x1="1177.6" y1="681.7" x2="1186.8" y2="681.7" class="t"/>
<text transform="translate(1174.6 691.2) scale(1 1.03)" font-size="32.3" text-anchor="end">0</text>
<line x1="1177.6" y1="538.85" x2="1186.8" y2="538.85" class="t"/>
<text transform="translate(1174.6 548.35) scale(1 1.03)" font-size="32.3" text-anchor="end">500</text>
<line x1="1177.6" y1="396" x2="1186.8" y2="396" class="t"/>
<text transform="translate(1174.6 405.5) scale(1 1.03)" font-size="32.3" text-anchor="end">1,000</text>
<line x1="1177.6" y1="253.15" x2="1186.8" y2="253.15" class="t"/>
<text transform="translate(1174.6 262.65) scale(1 1.03)" font-size="32.3" text-anchor="end">1,500</text>
<line x1="1177.6" y1="110.3" x2="1186.8" y2="110.3" class="t"/>
<text transform="translate(1174.6 119.8) scale(1 1.03)" font-size="32.3" text-anchor="end">2,000</text>
<line x1="1205.5" y1="708.8" x2="1205.5" y2="717.8" class="t"/>
<text transform="translate(1205.5 747.4) scale(1 1.03)" font-size="32.3" text-anchor="middle">0</text>
<line x1="1239.3" y1="708.8" x2="1239.3" y2="717.8" class="t"/>
<line x1="1273.09" y1="708.8" x2="1273.09" y2="717.8" class="t"/>
<text transform="translate(1273.09 747.4) scale(1 1.03)" font-size="32.3" text-anchor="middle">2</text>
<line x1="1306.89" y1="708.8" x2="1306.89" y2="717.8" class="t"/>
<line x1="1340.68" y1="708.8" x2="1340.68" y2="717.8" class="t"/>
<text transform="translate(1340.68 747.4) scale(1 1.03)" font-size="32.3" text-anchor="middle">4</text>
<line x1="1374.48" y1="708.8" x2="1374.48" y2="717.8" class="t"/>
<line x1="1408.28" y1="708.8" x2="1408.28" y2="717.8" class="t"/>
<text transform="translate(1408.28 747.4) scale(1 1.03)" font-size="32.3" text-anchor="middle">6</text>
<line x1="1442.07" y1="708.8" x2="1442.07" y2="717.8" class="t"/>
<line x1="1475.87" y1="708.8" x2="1475.87" y2="717.8" class="t"/>
<text transform="translate(1475.87 747.4) scale(1 1.03)" font-size="32.3" text-anchor="middle">8</text>
<line x1="1509.66" y1="708.8" x2="1509.66" y2="717.8" class="t"/>
<line x1="1543.46" y1="708.8" x2="1543.46" y2="717.8" class="t"/>
<text transform="translate(1543.46 747.4) scale(1 1.03)" font-size="32.3" text-anchor="middle">10</text>
<line x1="1577.26" y1="708.8" x2="1577.26" y2="717.8" class="t"/>
<line x1="1611.05" y1="708.8" x2="1611.05" y2="717.8" class="t"/>
<text transform="translate(1611.05 747.4) scale(1 1.03)" font-size="32.3" text-anchor="middle">12</text>
<line x1="1644.85" y1="708.8" x2="1644.85" y2="717.8" class="t"/>
<line x1="1678.64" y1="708.8" x2="1678.64" y2="717.8" class="t"/>
<text transform="translate(1678.64 747.4) scale(1 1.03)" font-size="32.3" text-anchor="middle">14</text>
<line x1="1712.44" y1="708.8" x2="1712.44" y2="717.8" class="t"/>
<line x1="1746.24" y1="708.8" x2="1746.24" y2="717.8" class="t"/>
<text transform="translate(1746.24 747.4) scale(1 1.03)" font-size="32.3" text-anchor="middle">16</text>
<line x1="1780.03" y1="708.8" x2="1780.03" y2="717.8" class="t"/>
<line x1="1813.83" y1="708.8" x2="1813.83" y2="717.8" class="t"/>
<text transform="translate(1813.83 747.4) scale(1 1.03)" font-size="32.3" text-anchor="middle">18</text>
<line x1="1847.62" y1="708.8" x2="1847.62" y2="717.8" class="t"/>
<line x1="1881.42" y1="708.8" x2="1881.42" y2="717.8" class="t"/>
<text transform="translate(1881.42 747.4) scale(1 1.03)" font-size="32.3" text-anchor="middle">20</text>
<line x1="1915.22" y1="708.8" x2="1915.22" y2="717.8" class="t"/>
<line x1="1949.01" y1="708.8" x2="1949.01" y2="717.8" class="t"/>
<text transform="translate(1949.01 747.4) scale(1 1.03)" font-size="32.3" text-anchor="middle">22</text>
<line x1="1982.81" y1="708.8" x2="1982.81" y2="717.8" class="t"/>
<text transform="translate(1046.6 32.7) scale(1 1.05)" font-size="40.7" font-weight="bold">(b) East side</text>
<text transform="translate(1601.1 804.3) scale(1 1.04)" font-size="41.2" text-anchor="middle">Hour</text>
<text transform="translate(1080 733) rotate(-90) scale(1 1.04)" font-size="41.2" textLength="661.2" lengthAdjust="spacing">Mean number of detected song units</text>
<rect x="147.85" y="921.3" width="225.45" height="624.8" fill="#b1b1b1"/>
<rect x="756.45" y="921.3" width="205.65" height="624.8" fill="#b1b1b1"/>
<line x1="166.3" y1="1011.6" x2="166.3" y2="1201.88" class="w"/>
<line x1="166.3" y1="1328.72" x2="166.3" y2="1519" class="w"/>
<rect x="153.7" y="1201.88" width="25.2" height="126.85" class="b"/>
<line x1="151.8" y1="1265.3" x2="180.8" y2="1265.3" class="m"/>
<path d="M159.8 1252.46L172.8 1265.46M159.8 1265.46L172.8 1252.46" class="x"/>
<line x1="200.1" y1="1075.03" x2="200.1" y2="1201.88" class="w"/>
<line x1="200.1" y1="1328.72" x2="200.1" y2="1519" class="w"/>
<rect x="187.5" y="1201.88" width="25.2" height="126.85" class="b"/>
<line x1="185.6" y1="1265.3" x2="214.6" y2="1265.3" class="m"/>
<path d="M193.6 1248.02L206.6 1261.02M193.6 1261.02L206.6 1248.02" class="x"/>
<line x1="233.89" y1="1138.45" x2="233.89" y2="1201.88" class="w"/>
<line x1="233.89" y1="1265.3" x2="233.89" y2="1328.72" class="w"/>
<rect x="221.29" y="1201.88" width="25.2" height="63.42" class="b"/>
<line x1="219.39" y1="1265.3" x2="248.39" y2="1265.3" class="m"/>
<path d="M227.39 1236.6L240.39 1249.6M227.39 1249.6L240.39 1236.6" class="x"/>
<circle cx="233.89" cy="948.18" r="6.6"/>
<circle cx="233.89" cy="1075.03" r="6.6"/>
<circle cx="233.89" cy="1392.15" r="6.6"/>
<circle cx="233.89" cy="1455.58" r="6.6"/>
<line x1="267.69" y1="1138.45" x2="267.69" y2="1201.88" class="w"/>
<line x1="267.69" y1="1265.3" x2="267.69" y2="1328.72" class="w"/>
<rect x="255.09" y="1201.88" width="25.2" height="63.42" class="b"/>
<line x1="253.19" y1="1265.3" x2="282.19" y2="1265.3" class="m"/>
<path d="M261.19 1229.62L274.19 1242.62M261.19 1242.62L274.19 1229.62" class="x"/>
<circle cx="267.69" cy="1011.6" r="6.6"/>
<circle cx="267.69" cy="1075.03" r="6.6"/>
<circle cx="267.69" cy="1392.15" r="6.6"/>
<circle cx="267.69" cy="1455.58" r="6.6"/>
<line x1="301.48" y1="1138.45" x2="301.48" y2="1201.88" class="w"/>
<line x1="301.48" y1="1265.3" x2="301.48" y2="1328.72" class="w"/>
<rect x="288.88" y="1201.88" width="25.2" height="63.42" class="b"/>
<line x1="286.98" y1="1265.3" x2="315.98" y2="1265.3" class="m"/>
<path d="M294.98 1224.55L307.98 1237.55M294.98 1237.55L307.98 1224.55" class="x"/>
<circle cx="301.48" cy="1011.6" r="6.6"/>
<circle cx="301.48" cy="1075.03" r="6.6"/>
<circle cx="301.48" cy="1392.15" r="6.6"/>
<circle cx="301.48" cy="1455.58" r="6.6"/>
<line x1="335.28" y1="1138.45" x2="335.28" y2="1201.88" class="w"/>
<line x1="335.28" y1="1265.3" x2="335.28" y2="1328.72" class="w"/>
<rect x="322.68" y="1201.88" width="25.2" height="63.42" class="b"/>
<line x1="320.78" y1="1265.3" x2="349.78" y2="1265.3" class="m"/>
<path d="M328.78 1230.26L341.78 1243.26M328.78 1243.26L341.78 1230.26" class="x"/>
<circle cx="335.28" cy="1075.03" r="6.6"/>
<circle cx="335.28" cy="1392.15" r="6.6"/>
<line x1="369.08" y1="1011.6" x2="369.08" y2="1201.88" class="w"/>
<line x1="369.08" y1="1328.72" x2="369.08" y2="1455.58" class="w"/>
<rect x="356.48" y="1201.88" width="25.2" height="126.85" class="b"/>
<line x1="354.58" y1="1265.3" x2="383.58" y2="1265.3" class="m"/>
<path d="M362.58 1258.17L375.58 1271.17M362.58 1271.17L375.58 1258.17" class="x"/>
<line x1="402.87" y1="1201.88" x2="402.87" y2="1265.3" class="w"/>
<line x1="402.87" y1="1328.72" x2="402.87" y2="1392.15" class="w"/>
<rect x="390.27" y="1265.3" width="25.2" height="63.42" class="b"/>
<line x1="388.37" y1="1265.3" x2="417.37" y2="1265.3" class="m"/>
<path d="M396.37 1287.98L409.37 1300.98M396.37 1300.98L409.37 1287.98" class="x"/>
<circle cx="402.87" cy="1075.03" r="6.6"/>
<circle cx="402.87" cy="1138.45" r="6.6"/>
<circle cx="402.87" cy="1455.58" r="6.6"/>
<circle cx="402.87" cy="1519" r="6.6"/>
<line x1="436.67" y1="1075.03" x2="436.67" y2="1265.3" class="w"/>
<line x1="436.67" y1="1392.15" x2="436.67" y2="1455.58" class="w"/>
<rect x="424.07" y="1265.3" width="25.2" height="126.85" class="b"/>
<line x1="422.17" y1="1328.72" x2="451.17" y2="1328.72" class="m"/>
<path d="M430.17 1310.81L443.17 1323.81M430.17 1323.81L443.17 1310.81" class="x"/>
<line x1="470.46" y1="1138.45" x2="470.46" y2="1265.3" class="w"/>
<line x1="470.46" y1="1392.15" x2="470.46" y2="1519" class="w"/>
<rect x="457.86" y="1265.3" width="25.2" height="126.85" class="b"/>
<line x1="455.96" y1="1328.72" x2="484.96" y2="1328.72" class="m"/>
<path d="M463.96 1312.08L476.96 1325.08M463.96 1325.08L476.96 1312.08" class="x"/>
<line x1="504.26" y1="1138.45" x2="504.26" y2="1265.3" class="w"/>
<line x1="504.26" y1="1392.15" x2="504.26" y2="1519" class="w"/>
<rect x="491.66" y="1265.3" width="25.2" height="126.85" class="b"/>
<line x1="489.76" y1="1328.72" x2="518.76" y2="1328.72" class="m"/>
<path d="M497.76 1310.81L510.76 1323.81M497.76 1323.81L510.76 1310.81" class="x"/>
<line x1="538.06" y1="1138.45" x2="538.06" y2="1265.3" class="w"/>
<line x1="538.06" y1="1392.15" x2="538.06" y2="1519" class="w"/>
<rect x="525.46" y="1265.3" width="25.2" height="126.85" class="b"/>
<line x1="523.56" y1="1328.72" x2="552.56" y2="1328.72" class="m"/>
<path d="M531.56 1313.35L544.56 1326.35M531.56 1326.35L544.56 1313.35" class="x"/>
<line x1="571.85" y1="1075.03" x2="571.85" y2="1265.3" class="w"/>
<line x1="571.85" y1="1392.15" x2="571.85" y2="1519" class="w"/>
<rect x="559.25" y="1265.3" width="25.2" height="126.85" class="b"/>
<line x1="557.35" y1="1328.72" x2="586.35" y2="1328.72" class="m"/>
<path d="M565.35 1310.81L578.35 1323.81M565.35 1323.81L578.35 1310.81" class="x"/>
<line x1="605.65" y1="1138.45" x2="605.65" y2="1265.3" class="w"/>
<line x1="605.65" y1="1392.15" x2="605.65" y2="1519" class="w"/>
<rect x="593.05" y="1265.3" width="25.2" height="126.85" class="b"/>
<line x1="591.15" y1="1328.72" x2="620.15" y2="1328.72" class="m"/>
<path d="M599.15 1309.54L612.15 1322.54M599.15 1322.54L612.15 1309.54" class="x"/>
<line x1="639.44" y1="1201.88" x2="639.44" y2="1265.3" class="w"/>
<line x1="639.44" y1="1343.95" x2="639.44" y2="1455.58" class="w"/>
<rect x="626.84" y="1265.3" width="25.2" height="78.65" class="b"/>
<line x1="624.94" y1="1328.72" x2="653.94" y2="1328.72" class="m"/>
<path d="M632.94 1297.49L645.94 1310.49M632.94 1310.49L645.94 1297.49" class="x"/>
<circle cx="639.44" cy="1075.03" r="6.6"/>
<circle cx="639.44" cy="1138.45" r="6.6"/>
<line x1="673.24" y1="1201.88" x2="673.24" y2="1265.3" class="w"/>
<line x1="673.24" y1="1328.72" x2="673.24" y2="1392.15" class="w"/>
<rect x="660.64" y="1265.3" width="25.2" height="63.42" class="b"/>
<line x1="658.74" y1="1265.3" x2="687.74" y2="1265.3" class="m"/>
<path d="M666.74 1291.78L679.74 1304.78M666.74 1304.78L679.74 1291.78" class="x"/>
<circle cx="673.24" cy="1138.45" r="6.6"/>
<circle cx="673.24" cy="1455.58" r="6.6"/>
<circle cx="673.24" cy="1519" r="6.6"/>
<line x1="707.04" y1="1201.88" x2="707.04" y2="1265.3" class="w"/>
<line x1="707.04" y1="1328.72" x2="707.04" y2="1392.15" class="w"/>
<rect x="694.44" y="1265.3" width="25.2" height="63.42" class="b"/>
<line x1="692.54" y1="1265.3" x2="721.54" y2="1265.3" class="m"/>
<path d="M700.54 1285.44L713.54 1298.44M700.54 1298.44L713.54 1285.44" class="x"/>
<circle cx="707.04" cy="1075.03" r="6.6"/>
<circle cx="707.04" cy="1138.45" r="6.6"/>
<circle cx="707.04" cy="1455.58" r="6.6"/>
<circle cx="707.04" cy="1519" r="6.6"/>
<line x1="740.83" y1="1201.88" x2="740.83" y2="1265.3" class="w"/>
<line x1="740.83" y1="1328.72" x2="740.83" y2="1392.15" class="w"/>
<rect x="728.23" y="1265.3" width="25.2" height="63.42" class="b"/>
<line x1="726.33" y1="1265.3" x2="755.33" y2="1265.3" class="m"/>
<path d="M734.33 1275.92L747.33 1288.92M734.33 1288.92L747.33 1275.92" class="x"/>
<circle cx="740.83" cy="1075.03" r="6.6"/>
<circle cx="740.83" cy="1138.45" r="6.6"/>
<circle cx="740.83" cy="1455.58" r="6.6"/>
<line x1="774.63" y1="1075.03" x2="774.63" y2="1201.88" class="w"/>
<line x1="774.63" y1="1328.72" x2="774.63" y2="1455.58" class="w"/>
<rect x="762.03" y="1201.88" width="25.2" height="126.85" class="b"/>
<line x1="760.13" y1="1265.3" x2="789.13" y2="1265.3" class="m"/>
<path d="M768.13 1242.31L781.13 1255.31M768.13 1255.31L781.13 1242.31" class="x"/>
<line x1="808.42" y1="1138.45" x2="808.42" y2="1201.88" class="w"/>
<line x1="808.42" y1="1265.3" x2="808.42" y2="1328.72" class="w"/>
<rect x="795.82" y="1201.88" width="25.2" height="63.42" class="b"/>
<line x1="793.92" y1="1265.3" x2="822.92" y2="1265.3" class="m"/>
<path d="M801.92 1242.94L814.92 1255.94M801.92 1255.94L814.92 1242.94" class="x"/>
<circle cx="808.42" cy="1075.03" r="6.6"/>
<circle cx="808.42" cy="1392.15" r="6.6"/>
<circle cx="808.42" cy="1455.58" r="6.6"/>
<line x1="842.22" y1="1075.03" x2="842.22" y2="1201.88" class="w"/>
<line x1="842.22" y1="1328.72" x2="842.22" y2="1455.58" class="w"/>
<rect x="829.62" y="1201.88" width="25.2" height="126.85" class="b"/>
<line x1="827.72" y1="1265.3" x2="856.72" y2="1265.3" class="m"/>
<path d="M835.72 1242.31L848.72 1255.31M835.72 1255.31L848.72 1242.31" class="x"/>
<line x1="876.02" y1="1011.6" x2="876.02" y2="1201.88" class="w"/>
<line x1="876.02" y1="1328.72" x2="876.02" y2="1455.58" class="w"/>
<rect x="863.42" y="1201.88" width="25.2" height="126.85" class="b"/>
<line x1="861.52" y1="1265.3" x2="890.52" y2="1265.3" class="m"/>
<path d="M869.52 1242.94L882.52 1255.94M869.52 1255.94L882.52 1242.94" class="x"/>
<line x1="909.81" y1="1011.6" x2="909.81" y2="1201.88" class="w"/>
<line x1="909.81" y1="1328.72" x2="909.81" y2="1455.58" class="w"/>
<rect x="897.21" y="1201.88" width="25.2" height="126.85" class="b"/>
<line x1="895.31" y1="1265.3" x2="924.31" y2="1265.3" class="m"/>
<path d="M903.31 1252.46L916.31 1265.46M903.31 1265.46L916.31 1252.46" class="x"/>
<line x1="943.61" y1="1011.6" x2="943.61" y2="1201.88" class="w"/>
<line x1="943.61" y1="1328.72" x2="943.61" y2="1455.58" class="w"/>
<rect x="931.01" y="1201.88" width="25.2" height="126.85" class="b"/>
<line x1="929.11" y1="1265.3" x2="958.11" y2="1265.3" class="m"/>
<path d="M937.11 1256.9L950.11 1269.9M937.11 1269.9L950.11 1256.9" class="x"/>
<rect x="147.85" y="921.3" width="814.25" height="624.8" class="fr"/>
<line x1="138.65" y1="1519" x2="147.85" y2="1519" class="t"/>
<text transform="translate(132.9 1528.5) scale(1 1.03)" font-size="32.3" text-anchor="end">0</text>
<line x1="138.65" y1="1392.15" x2="147.85" y2="1392.15" class="t"/>
<text transform="translate(132.9 1401.65) scale(1 1.03)" font-size="32.3" text-anchor="end">2</text>
<line x1="138.65" y1="1265.3" x2="147.85" y2="1265.3" class="t"/>
<text transform="translate(132.9 1274.8) scale(1 1.03)" font-size="32.3" text-anchor="end">4</text>
<line x1="138.65" y1="1138.45" x2="147.85" y2="1138.45" class="t"/>
<text transform="translate(132.9 1147.95) scale(1 1.03)" font-size="32.3" text-anchor="end">6</text>
<line x1="138.65" y1="1011.6" x2="147.85" y2="1011.6" class="t"/>
<text transform="translate(132.9 1021.1) scale(1 1.03)" font-size="32.3" text-anchor="end">8</text>
<line x1="166.3" y1="1546.1" x2="166.3" y2="1555.1" class="t"/>
<text transform="translate(166.3 1584.6) scale(1 1.03)" font-size="32.3" text-anchor="middle">0</text>
<line x1="200.1" y1="1546.1" x2="200.1" y2="1555.1" class="t"/>
<line x1="233.89" y1="1546.1" x2="233.89" y2="1555.1" class="t"/>
<text transform="translate(233.89 1584.6) scale(1 1.03)" font-size="32.3" text-anchor="middle">2</text>
<line x1="267.69" y1="1546.1" x2="267.69" y2="1555.1" class="t"/>
<line x1="301.48" y1="1546.1" x2="301.48" y2="1555.1" class="t"/>
<text transform="translate(301.48 1584.6) scale(1 1.03)" font-size="32.3" text-anchor="middle">4</text>
<line x1="335.28" y1="1546.1" x2="335.28" y2="1555.1" class="t"/>
<line x1="369.08" y1="1546.1" x2="369.08" y2="1555.1" class="t"/>
<text transform="translate(369.08 1584.6) scale(1 1.03)" font-size="32.3" text-anchor="middle">6</text>
<line x1="402.87" y1="1546.1" x2="402.87" y2="1555.1" class="t"/>
<line x1="436.67" y1="1546.1" x2="436.67" y2="1555.1" class="t"/>
<text transform="translate(436.67 1584.6) scale(1 1.03)" font-size="32.3" text-anchor="middle">8</text>
<line x1="470.46" y1="1546.1" x2="470.46" y2="1555.1" class="t"/>
<line x1="504.26" y1="1546.1" x2="504.26" y2="1555.1" class="t"/>
<text transform="translate(504.26 1584.6) scale(1 1.03)" font-size="32.3" text-anchor="middle">10</text>
<line x1="538.06" y1="1546.1" x2="538.06" y2="1555.1" class="t"/>
<line x1="571.85" y1="1546.1" x2="571.85" y2="1555.1" class="t"/>
<text transform="translate(571.85 1584.6) scale(1 1.03)" font-size="32.3" text-anchor="middle">12</text>
<line x1="605.65" y1="1546.1" x2="605.65" y2="1555.1" class="t"/>
<line x1="639.44" y1="1546.1" x2="639.44" y2="1555.1" class="t"/>
<text transform="translate(639.44 1584.6) scale(1 1.03)" font-size="32.3" text-anchor="middle">14</text>
<line x1="673.24" y1="1546.1" x2="673.24" y2="1555.1" class="t"/>
<line x1="707.04" y1="1546.1" x2="707.04" y2="1555.1" class="t"/>
<text transform="translate(707.04 1584.6) scale(1 1.03)" font-size="32.3" text-anchor="middle">16</text>
<line x1="740.83" y1="1546.1" x2="740.83" y2="1555.1" class="t"/>
<line x1="774.63" y1="1546.1" x2="774.63" y2="1555.1" class="t"/>
<text transform="translate(774.63 1584.6) scale(1 1.03)" font-size="32.3" text-anchor="middle">18</text>
<line x1="808.42" y1="1546.1" x2="808.42" y2="1555.1" class="t"/>
<line x1="842.22" y1="1546.1" x2="842.22" y2="1555.1" class="t"/>
<text transform="translate(842.22 1584.6) scale(1 1.03)" font-size="32.3" text-anchor="middle">20</text>
<line x1="876.02" y1="1546.1" x2="876.02" y2="1555.1" class="t"/>
<line x1="909.81" y1="1546.1" x2="909.81" y2="1555.1" class="t"/>
<text transform="translate(909.81 1584.6) scale(1 1.03)" font-size="32.3" text-anchor="middle">22</text>
<line x1="943.61" y1="1546.1" x2="943.61" y2="1555.1" class="t"/>
<text transform="translate(3.4 869.7) scale(1 1.05)" font-size="40.7" font-weight="bold">(c) West side</text>
<text transform="translate(565.85 1641.8) scale(1 1.04)" font-size="41.2" text-anchor="middle">Hour</text>
<text transform="translate(32.9 1538.8) rotate(-90) scale(1 1.04)" font-size="41.2" textLength="607" lengthAdjust="spacing">Mean number of detected singers</text>
</svg></body></html>
